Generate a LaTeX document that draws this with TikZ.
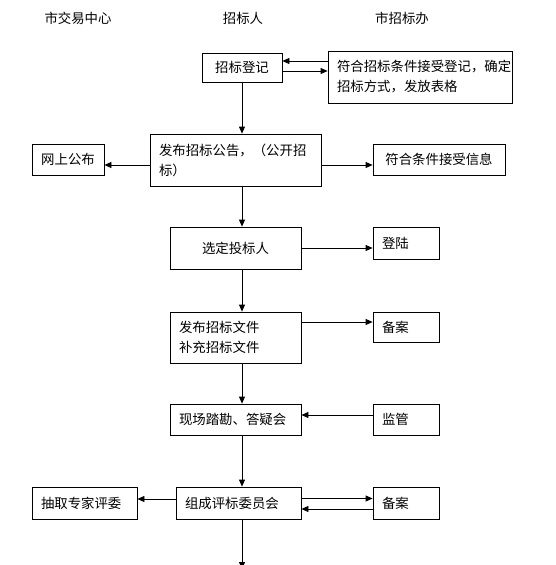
\documentclass[tikz,border=0pt]{standalone}
\usepackage{fontspec}
\setmainfont{Noto Sans CJK SC}
\usetikzlibrary{arrows.meta,positioning,calc}

\begin{document}
\begin{tikzpicture}[x=1pt,y=-1pt,>={Triangle[length=7pt,width=6pt]},line width=0.8pt]
  \tikzstyle{box}=[draw,inner xsep=9pt,inner ysep=2pt,align=left,font=\fontsize{13.4}{20}\selectfont]
  \tikzstyle{head}=[font=\fontsize{13.4}{16}\selectfont]
  \useasboundingbox (0,0) rectangle (556,565);

  % Column heads
  \node[head] (hcenter) at (78,18) {市交易中心};
  \node[head] (hbidder) at (243,18) {招标人};
  \node[head] (hoffice) at (402,18) {市招标办};

  % Main column
  \node[box,align=center,minimum width=80pt,minimum height=29pt] (reg) at (242,67.5) {招标登记};
  \node[box,text width=153pt,minimum height=52pt] (notice) at (235.5,160) {发布招标公告，（公开招\\标）};
  \node[box,align=center,minimum width=131pt,minimum height=42pt] (select) at (235.5,248) {选定投标人};
  \node[box,text width=113pt,minimum height=51pt] (file) at (235.5,337.5) {发布招标文件\\补充招标文件};
  \node[box,text width=113pt,minimum height=31pt] (site) at (235.5,419.5) {现场踏勘、答疑会};
  \node[box,text width=107pt,minimum height=32pt] (comm) at (238.5,503) {组成评标委员会};
  \coordinate (next) at (242,569);

  % Left column
  \node[box,align=center,minimum width=72pt,minimum height=31pt] (web) at (68,159.5) {网上公布};
  \node[box,text width=87pt,minimum height=32pt] (expert) at (84.5,503) {抽取专家评委};

  % Right column
  \node[box,text width=166pt,minimum height=52pt] (regok) at (420,77) {符合招标条件接受登记，确定\\招标方式，发放表格};
  \node[box,align=center,minimum width=132pt,minimum height=31pt] (info) at (439,159.5) {符合条件接受信息};
  \node[box,text width=48pt,minimum height=32pt] (login) at (406,243) {登陆};
  \node[box,text width=48pt,minimum height=30pt] (rec1) at (406,327) {备案};
  \node[box,text width=48pt,minimum height=31pt] (sup) at (406,419.5) {监管};
  \node[box,text width=48pt,minimum height=32pt] (rec2) at (406,503) {备案};

  % Down the main column
  \draw[->] (reg.south) -- (reg.south |- notice.north);
  \draw[->] (notice.south -| reg.south) -- (select.north -| reg.south);
  \draw[->] (select.south -| reg.south) -- (file.north -| reg.south);
  \draw[->] (file.south -| reg.south) -- (site.north -| reg.south);
  \draw[->] (site.south -| reg.south) -- (comm.north -| reg.south);
  \draw[->] (comm.south -| reg.south) -- (next);

  % Side arrows
  \draw[->] ([yshift=6.5pt]reg.east -| regok.west) -- ([yshift=6.5pt]reg.east);
  \draw[->] ([yshift=-3.5pt]reg.east) -- ([yshift=-3.5pt]reg.east -| regok.west);
  \draw[->] ([yshift=-5pt]notice.west) -- ([yshift=-5pt]notice.west -| web.east);
  \draw[->] ([yshift=-5pt]notice.east) -- ([yshift=-5pt]notice.east -| info.west);
  \draw[->] (select.east) -- (select.east -| login.west);
  \draw[->] ([yshift=15.5pt]file.east) -- ([yshift=15.5pt]file.east -| rec1.west);
  \draw[->] ([yshift=4.5pt]sup.west) -- ([yshift=4.5pt]sup.west -| site.east);
  \draw[->] ([yshift=4pt]comm.west) -- ([yshift=4pt]comm.west -| expert.east);
  \draw[->] ([yshift=4.5pt]comm.east) -- ([yshift=4.5pt]comm.east -| rec2.west);
  \draw[->] ([yshift=-6pt]rec2.west) -- ([yshift=-6pt]rec2.west -| comm.east);
\end{tikzpicture}
\end{document}
